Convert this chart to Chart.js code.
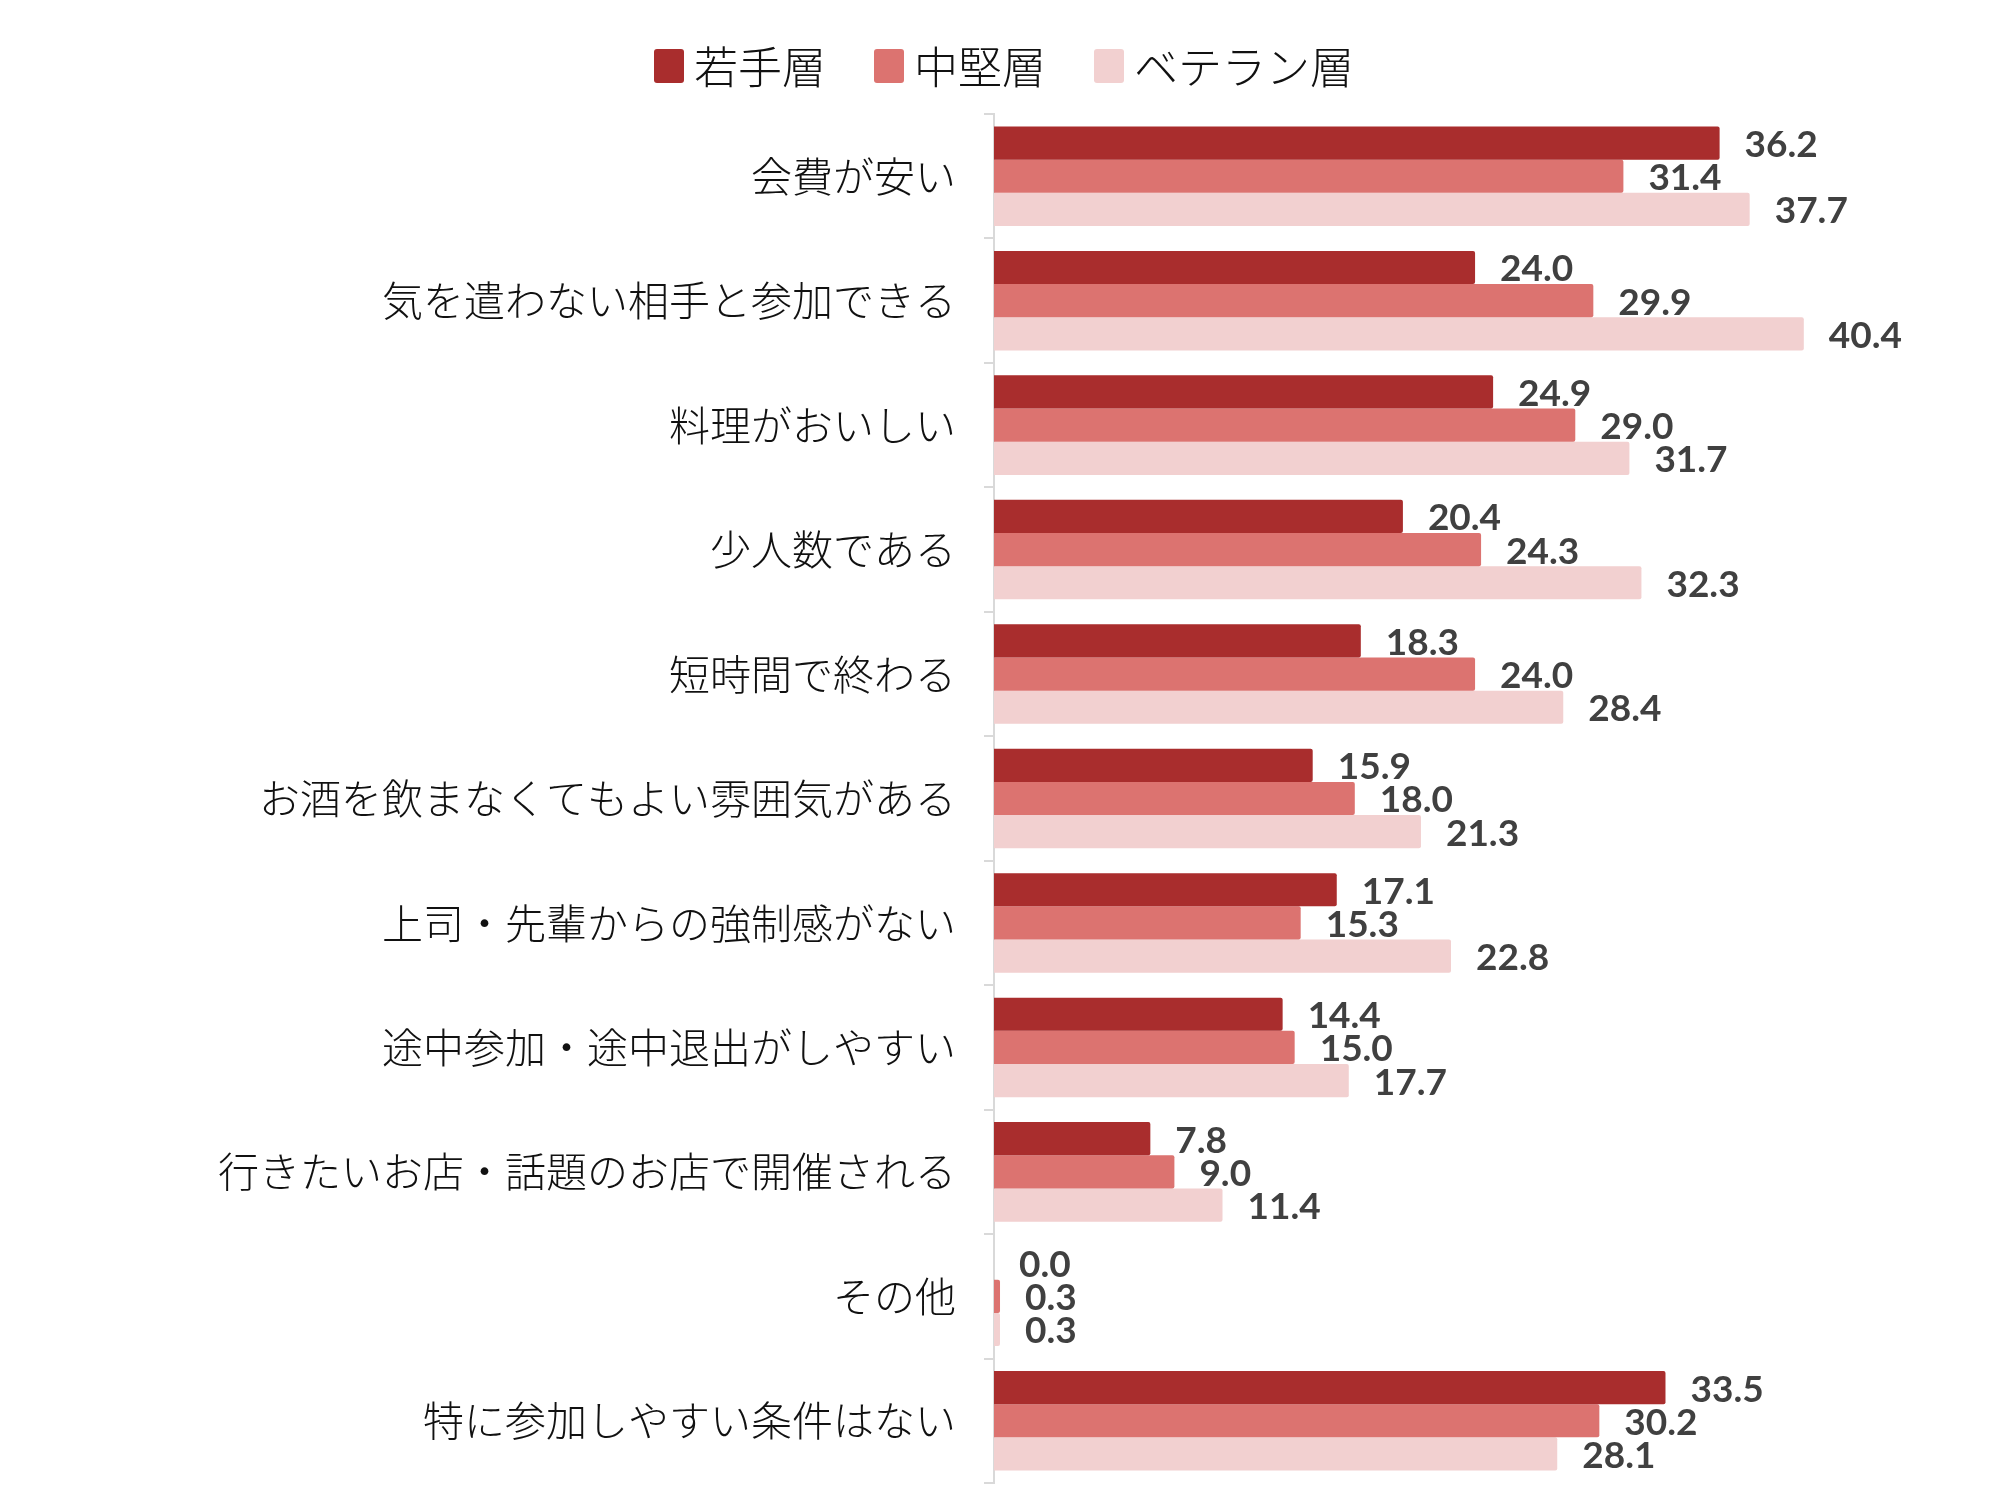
<!DOCTYPE html>
<html>
<head>
<meta charset="utf-8">
<script src="https://cdn.jsdelivr.net/npm/chart.js@4"></script>
<style>
  html, body { margin: 0; padding: 0; background: #fff; }
  #wrap { width: 1993px; height: 1501px; }
</style>
</head>
<body>
<div id="wrap"><canvas id="barChart"></canvas></div>
<script>
const categories = [
    '会費が安い',
    '気を遣わない相手と参加できる',
    '料理がおいしい',
    '少人数である',
    '短時間で終わる',
    'お酒を飲まなくてもよい雰囲気がある',
    '上司・先輩からの強制感がない',
    '途中参加・途中退出がしやすい',
    '行きたいお店・話題のお店で開催される',
    'その他',
    '特に参加しやすい条件はない'
];
const seriesNames = ['若手層', '中堅層', 'ベテラン層'];
const wakate = [36.2, 24.0, 24.9, 20.4, 18.3, 15.9, 17.1, 14.4, 7.8, 0.0, 33.5];
const chuken = [31.4, 29.9, 29.0, 24.3, 24.0, 18.0, 15.3, 15.0, 9.0, 0.3, 30.2];
const veteran = [37.7, 40.4, 31.7, 32.3, 28.4, 21.3, 22.8, 17.7, 11.4, 0.3, 28.1];
const colors = ['#a92d2d', '#dc7370', '#f2d0d0'];

const jpFont = '"Noto Sans CJK JP", "Noto Sans", sans-serif';

// value labels at the end of each bar
const barLabels = {
    id: 'barLabels',
    afterDatasetsDraw(chart) {
        const ctx = chart.ctx;
        ctx.save();
        ctx.font = 'bold 37px Lato, "Open Sans", sans-serif';
        ctx.fillStyle = '#404040';
        ctx.textAlign = 'left';
        ctx.textBaseline = 'middle';
        chart.data.datasets.forEach((ds, i) => {
            const meta = chart.getDatasetMeta(i);
            meta.data.forEach((bar, j) => {
                ctx.fillText(ds.data[j].toFixed(1), bar.x + 25, bar.y + 2);
            });
        });
        ctx.restore();
    }
};

// legend drawn by hand so the box/text spacing matches
const topLegend = {
    id: 'topLegend',
    afterDraw(chart) {
        const ctx = chart.ctx;
        const boxW = 30, boxH = 34, gap = 10, spacing = 48, cy = 66;
        ctx.save();
        ctx.font = '300 44px ' + jpFont;
        ctx.textBaseline = 'middle';
        const items = chart.data.datasets.map(ds => ({
            text: ds.label,
            color: ds.backgroundColor,
            w: boxW + gap + ctx.measureText(ds.label).width
        }));
        const total = items.reduce((s, it) => s + it.w, 0) + spacing * (items.length - 1);
        let x = 1004 - total / 2;
        items.forEach(it => {
            ctx.fillStyle = it.color;
            ctx.beginPath();
            ctx.roundRect(x, cy - boxH / 2, boxW, boxH, 3);
            ctx.fill();
            ctx.fillStyle = '#111';
            ctx.fillText(it.text, x + boxW + gap, cy + 1);
            x += it.w + spacing;
        });
        ctx.restore();
    }
};

const ctx = document.getElementById('barChart');
new Chart(ctx, {
    type: 'bar',
    data: {
        labels: categories,
        datasets: [
            { label: seriesNames[0], data: wakate, backgroundColor: colors[0] },
            { label: seriesNames[1], data: chuken, backgroundColor: colors[1] },
            { label: seriesNames[2], data: veteran, backgroundColor: colors[2] }
        ]
    },
    options: {
        indexAxis: 'y',
        responsive: true,
        maintainAspectRatio: false,
        animation: false,
        datasets: {
            bar: { categoryPercentage: 0.8, barPercentage: 1.0, borderRadius: 2, borderSkipped: 'start' }
        },
        layout: { padding: { left: 0, right: 97, top: 114, bottom: 18 } },
        scales: {
            x: {
                display: false,
                min: 0,
                max: 45
            },
            y: {
                grid: {
                    offset: true,
                    drawOnChartArea: false,
                    drawTicks: true,
                    tickLength: 10,
                    color: '#d9d9d9',
                    lineWidth: 2
                },
                border: { color: '#d9d9d9', width: 2 },
                ticks: {
                    color: '#111',
                    padding: 28,
                    font: { family: jpFont, size: 41, weight: 300 }
                },
                afterFit(scale) {
                    scale.width = 994;
                    scale.paddingTop = 0;
                    scale.paddingBottom = 0;
                }
            }
        },
        plugins: {
            legend: { display: false },
            tooltip: { enabled: false }
        }
    },
    plugins: [barLabels, topLegend]
});
</script>
</body>
</html>
